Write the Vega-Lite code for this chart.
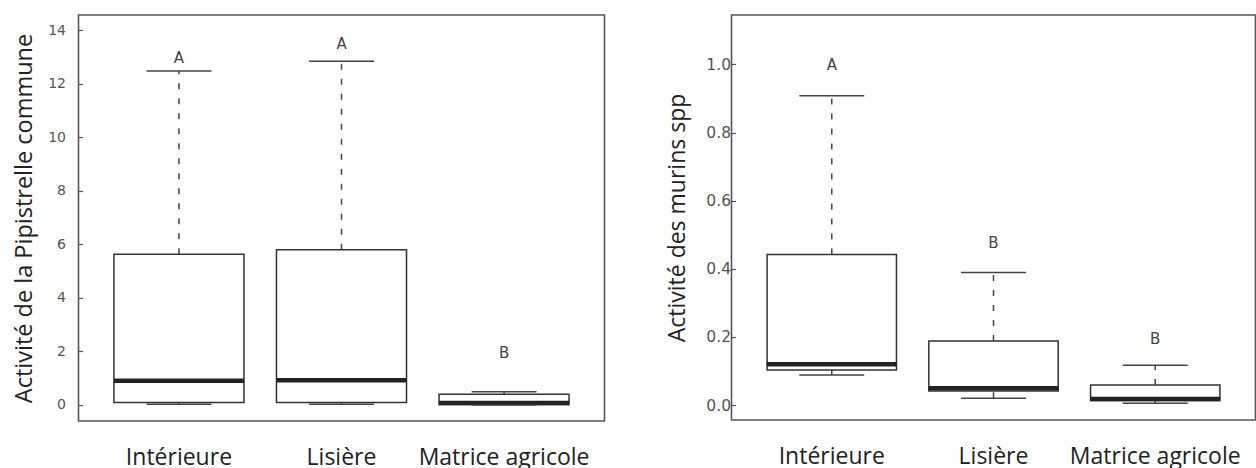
{
  "$schema": "https://vega.github.io/schema/vega-lite/v6.json",
  "padding": {"left": 11.5, "top": 14, "right": 0, "bottom": 0},
  "background": "white",
  "spacing": 60,
  "config": {
    "view": {"stroke": "#555", "strokeWidth": 1.6},
    "axis": {"grid": false},
    "axisY": {"domain": false, "tickSize": -4, "tickColor": "#555", "tickWidth": 1.2, "labelFont": "DejaVu Sans", "labelColor": "#555", "labelPadding": 17, "titleFont": "Open Sans", "titleFontSize": 23.5, "titleFontWeight": "normal", "titleColor": "#222", "titlePadding": 11},
    "axisX": {"domain": false, "ticks": false, "labelFont": "Open Sans", "labelFontSize": 23, "labelColor": "#222", "labelAngle": 0, "labelBaseline": "alphabetic", "labelPadding": 43, "title": null}
  },
  "datasets": {
    "pip": [
      {"zone": "Intérieure", "lower": 0.03, "q1": 0.09, "median": 0.9, "q3": 5.63, "upper": 12.48, "lettre": "A", "lettre_y": 12.95},
      {"zone": "Lisière", "lower": 0.03, "q1": 0.09, "median": 0.92, "q3": 5.8, "upper": 12.84, "lettre": "A", "lettre_y": 13.48},
      {"zone": "Matrice agricole", "lower": 0.0, "q1": 0.02, "median": 0.07, "q3": 0.4, "upper": 0.49, "lettre": "B", "lettre_y": 1.95}
    ],
    "mur": [
      {"zone": "Intérieure", "lower": 0.088, "q1": 0.103, "median": 0.12, "q3": 0.442, "upper": 0.908, "lettre": "A", "lettre_y": 0.998},
      {"zone": "Lisière", "lower": 0.02, "q1": 0.041, "median": 0.049, "q3": 0.188, "upper": 0.389, "lettre": "B", "lettre_y": 0.477},
      {"zone": "Matrice agricole", "lower": 0.005, "q1": 0.013, "median": 0.018, "q3": 0.059, "upper": 0.117, "lettre": "B", "lettre_y": 0.195}
    ]
  },
  "hconcat": [
    {
      "width": 526,
      "height": 406,
      "data": {"name": "pip"},
      "encoding": {
        "x": {"field": "zone", "type": "nominal", "sort": null, "scale": {"type": "band", "paddingInner": 0, "paddingOuter": 0.118}}
      },
      "layer": [
        {"mark": {"type": "rule", "strokeDash": [6, 9], "color": "#444", "strokeWidth": 1.5},
         "encoding": {"y": {"field": "q3", "type": "quantitative", "scale": {"domain": [-0.6, 14.57], "nice": false, "zero": false}, "axis": {"title": "Activité de la Pipistrelle commune", "values": [0, 2, 4, 6, 8, 10, 12, 14], "labelFontSize": 14}}, "y2": {"field": "upper"}}},
        {"mark": {"type": "rule", "strokeDash": [6, 9], "color": "#444", "strokeWidth": 1.5},
         "encoding": {"y": {"field": "lower", "type": "quantitative"}, "y2": {"field": "q1"}}},
        {"mark": {"type": "bar", "fill": "white", "stroke": "#333", "strokeWidth": 1.5, "width": {"band": 0.8}},
         "encoding": {"y": {"field": "q1", "type": "quantitative"}, "y2": {"field": "q3"}}},
        {"mark": {"type": "tick", "color": "#222", "size": 130, "thickness": 4.5, "opacity": 1},
         "encoding": {"y": {"field": "median", "type": "quantitative"}}},
        {"mark": {"type": "tick", "color": "#444", "size": 65, "thickness": 1.5, "opacity": 1},
         "encoding": {"y": {"field": "upper", "type": "quantitative"}}},
        {"mark": {"type": "tick", "color": "#444", "size": 65, "thickness": 1.5, "opacity": 1},
         "encoding": {"y": {"field": "lower", "type": "quantitative"}}},
        {"mark": {"type": "text", "font": "DejaVu Sans", "fontSize": 15, "color": "#444", "baseline": "middle"},
         "encoding": {"y": {"field": "lettre_y", "type": "quantitative"}, "text": {"field": "lettre"}}}
      ]
    },
    {
      "width": 524,
      "height": 405,
      "data": {"name": "mur"},
      "encoding": {
        "x": {"field": "zone", "type": "nominal", "sort": null, "scale": {"type": "band", "paddingInner": 0, "paddingOuter": 0.12}}
      },
      "layer": [
        {"mark": {"type": "rule", "strokeDash": [6, 9], "color": "#444", "strokeWidth": 1.5},
         "encoding": {"y": {"field": "q3", "type": "quantitative", "scale": {"domain": [-0.044, 1.145], "nice": false, "zero": false}, "axis": {"title": "Activité des murins spp", "values": [0, 0.2, 0.4, 0.6, 0.8, 1.0], "format": ".1f", "labelFontSize": 15.5, "labelPadding": 5, "titleFontSize": 23, "titlePadding": 16.5}}, "y2": {"field": "upper"}}},
        {"mark": {"type": "rule", "strokeDash": [6, 9], "color": "#444", "strokeWidth": 1.5},
         "encoding": {"y": {"field": "lower", "type": "quantitative"}, "y2": {"field": "q1"}}},
        {"mark": {"type": "bar", "fill": "white", "stroke": "#333", "strokeWidth": 1.5, "width": {"band": 0.8}},
         "encoding": {"y": {"field": "q1", "type": "quantitative"}, "y2": {"field": "q3"}}},
        {"mark": {"type": "tick", "color": "#222", "size": 130, "thickness": 4.5, "opacity": 1},
         "encoding": {"y": {"field": "median", "type": "quantitative"}}},
        {"mark": {"type": "tick", "color": "#444", "size": 65, "thickness": 1.5, "opacity": 1},
         "encoding": {"y": {"field": "upper", "type": "quantitative"}}},
        {"mark": {"type": "tick", "color": "#444", "size": 65, "thickness": 1.5, "opacity": 1},
         "encoding": {"y": {"field": "lower", "type": "quantitative"}}},
        {"mark": {"type": "text", "font": "DejaVu Sans", "fontSize": 15, "color": "#444", "baseline": "middle"},
         "encoding": {"y": {"field": "lettre_y", "type": "quantitative"}, "text": {"field": "lettre"}}}
      ]
    }
  ]
}
